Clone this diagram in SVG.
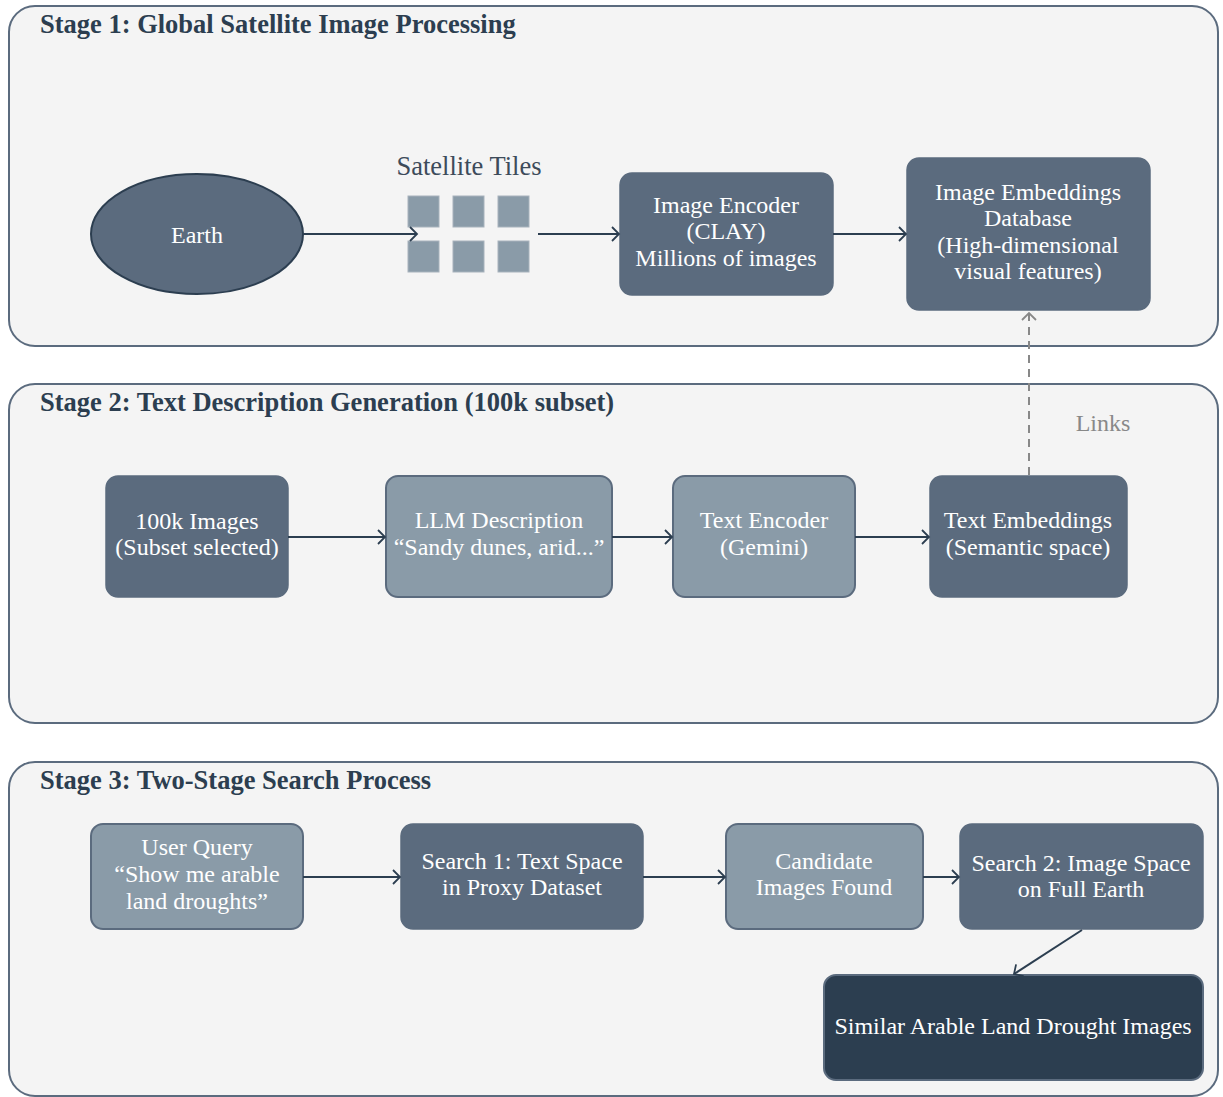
<svg xmlns="http://www.w3.org/2000/svg" width="1223" height="1097" viewBox="0 0 1223 1097">
  <defs>
    <style>
      .panel { fill: #f4f4f4; stroke: #5b6b7e; stroke-width: 2; }
      .title { font-family: "Liberation Serif", "Times New Roman", serif; font-weight: bold; font-size: 26.5px; fill: #2c3e50; }
      .lbl { font-family: "Liberation Serif", "Times New Roman", serif; font-size: 24px; fill: #ffffff; text-anchor: middle; }
      .dark { fill: #5b6b7e; stroke: #5b6b7e; stroke-width: 1.5; }
      .light { fill: #8a9ba8; stroke: #5b6b7e; stroke-width: 2; }
      .final { fill: #2c3e50; stroke: #5b6b7e; stroke-width: 2; }
      .tile { fill: #8a9ba8; stroke: #a7b2bc; stroke-width: 1; }
      .conn { fill: none; stroke: #2c3e50; stroke-width: 2; marker-end: url(#arr); }
      .link { fill: none; stroke: #888888; stroke-width: 2; stroke-dasharray: 8 6; marker-end: url(#arrGrey); }
    </style>
    <marker id="arr" viewBox="-9 -8 11 16" refX="0" refY="0" markerWidth="11" markerHeight="16" markerUnits="userSpaceOnUse" orient="auto">
      <path d="M-7,-7 Q-1.5,-1.5 0,0 Q-1.5,1.5 -7,7" fill="none" stroke="#2c3e50" stroke-width="1.8"/>
    </marker>
    <marker id="arrGrey" viewBox="-9 -8 11 16" refX="0" refY="0" markerWidth="11" markerHeight="16" markerUnits="userSpaceOnUse" orient="auto">
      <path d="M-7,-7 Q-1.5,-1.5 0,0 Q-1.5,1.5 -7,7" fill="none" stroke="#888888" stroke-width="1.8"/>
    </marker>
  </defs>

  <!-- stage panels -->
  <g id="stage1">
    <rect class="panel" x="9" y="6" width="1209" height="340" rx="26"/>
    <text class="title" x="40" y="33">Stage 1: Global Satellite Image Processing</text>
  </g>
  <g id="stage2">
    <rect class="panel" x="9" y="384" width="1209" height="339" rx="26"/>
    <text class="title" x="40" y="411">Stage 2: Text Description Generation (100k subset)</text>
  </g>
  <g id="stage3">
    <rect class="panel" x="9" y="762" width="1209" height="334" rx="26"/>
    <text class="title" x="40" y="789">Stage 3: Two-Stage Search Process</text>
  </g>

  <!-- stage 1 nodes -->
  <g id="earth">
    <ellipse cx="197" cy="234" rx="106" ry="60" fill="#5b6b7e" stroke="#2c3e50" stroke-width="2"/>
    <text class="lbl" x="197" y="243" font-size="26">Earth</text>
  </g>
  <g id="tiles">
    <text x="469" y="175" font-family="Liberation Serif, Times New Roman, serif" font-size="26.5" fill="#3d4b5a" text-anchor="middle">Satellite Tiles</text>
    <rect class="tile" x="408" y="196" width="31" height="31"/>
    <rect class="tile" x="453" y="196" width="31" height="31"/>
    <rect class="tile" x="498" y="196" width="31" height="31"/>
    <rect class="tile" x="408" y="241" width="31" height="31"/>
    <rect class="tile" x="453" y="241" width="31" height="31"/>
    <rect class="tile" x="498" y="241" width="31" height="31"/>
  </g>
  <g id="image-encoder">
    <rect class="dark" x="620" y="173" width="213" height="122" rx="12"/>
    <text class="lbl" x="726" y="213">Image Encoder</text>
    <text class="lbl" x="726" y="239">(CLAY)</text>
    <text class="lbl" x="726" y="266">Millions of images</text>
  </g>
  <g id="image-db">
    <rect class="dark" x="907" y="158" width="243" height="152" rx="12"/>
    <text class="lbl" x="1028" y="200">Image Embeddings</text>
    <text class="lbl" x="1028" y="226">Database</text>
    <text class="lbl" x="1028" y="253">(High-dimensional</text>
    <text class="lbl" x="1028" y="279">visual features)</text>
  </g>

  <!-- stage 2 nodes -->
  <g id="subset">
    <rect class="dark" x="106" y="476" width="182" height="121" rx="12"/>
    <text class="lbl" x="197" y="529">100k Images</text>
    <text class="lbl" x="197" y="555">(Subset selected)</text>
  </g>
  <g id="llm">
    <rect class="light" x="386" y="476" width="226" height="121" rx="12"/>
    <text class="lbl" x="499" y="528">LLM Description</text>
    <text class="lbl" x="499" y="555">“Sandy dunes, arid...”</text>
  </g>
  <g id="text-encoder">
    <rect class="light" x="673" y="476" width="182" height="121" rx="12"/>
    <text class="lbl" x="764" y="528">Text Encoder</text>
    <text class="lbl" x="764" y="555">(Gemini)</text>
  </g>
  <g id="text-emb">
    <rect class="dark" x="930" y="476" width="197" height="121" rx="12"/>
    <text class="lbl" x="1028" y="528">Text Embeddings</text>
    <text class="lbl" x="1028" y="555">(Semantic space)</text>
  </g>

  <!-- stage 3 nodes -->
  <g id="query">
    <rect class="light" x="91" y="824" width="212" height="105" rx="12"/>
    <text class="lbl" x="197" y="855">User Query</text>
    <text class="lbl" x="197" y="882">“Show me arable</text>
    <text class="lbl" x="197" y="909">land droughts”</text>
  </g>
  <g id="search1">
    <rect class="dark" x="401" y="824" width="242" height="105" rx="12"/>
    <text class="lbl" x="522" y="869">Search 1: Text Space</text>
    <text class="lbl" x="522" y="895">in Proxy Dataset</text>
  </g>
  <g id="candidates">
    <rect class="light" x="726" y="824" width="197" height="105" rx="12"/>
    <text class="lbl" x="824" y="869">Candidate</text>
    <text class="lbl" x="824" y="895">Images Found</text>
  </g>
  <g id="search2">
    <rect class="dark" x="960" y="824" width="243" height="105" rx="12"/>
    <text class="lbl" x="1081" y="871">Search 2: Image Space</text>
    <text class="lbl" x="1081" y="897">on Full Earth</text>
  </g>
  <g id="results">
    <rect class="final" x="824" y="975" width="379" height="105" rx="12"/>
    <text class="lbl" x="1013" y="1034">Similar Arable Land Drought Images</text>
  </g>

  <!-- connectors -->
  <g id="connectors">
    <line class="conn" x1="303" y1="234" x2="417" y2="234"/>
    <line class="conn" x1="538" y1="234" x2="619" y2="234"/>
    <line class="conn" x1="833" y1="234" x2="906" y2="234"/>
    <line class="conn" x1="288" y1="537" x2="385" y2="537"/>
    <line class="conn" x1="612" y1="537" x2="672" y2="537"/>
    <line class="conn" x1="855" y1="537" x2="929" y2="537"/>
    <line class="conn" x1="303" y1="877" x2="400" y2="877"/>
    <line class="conn" x1="643" y1="877" x2="725" y2="877"/>
    <line class="conn" x1="923" y1="877" x2="959" y2="877"/>
    <line class="conn" x1="1082" y1="930" x2="1014" y2="974"/>
    <line class="link" x1="1029" y1="475" x2="1029" y2="313"/>
    <text x="1103" y="431" font-family="Liberation Serif, Times New Roman, serif" font-size="24" fill="#888888" text-anchor="middle">Links</text>
  </g>
</svg>
